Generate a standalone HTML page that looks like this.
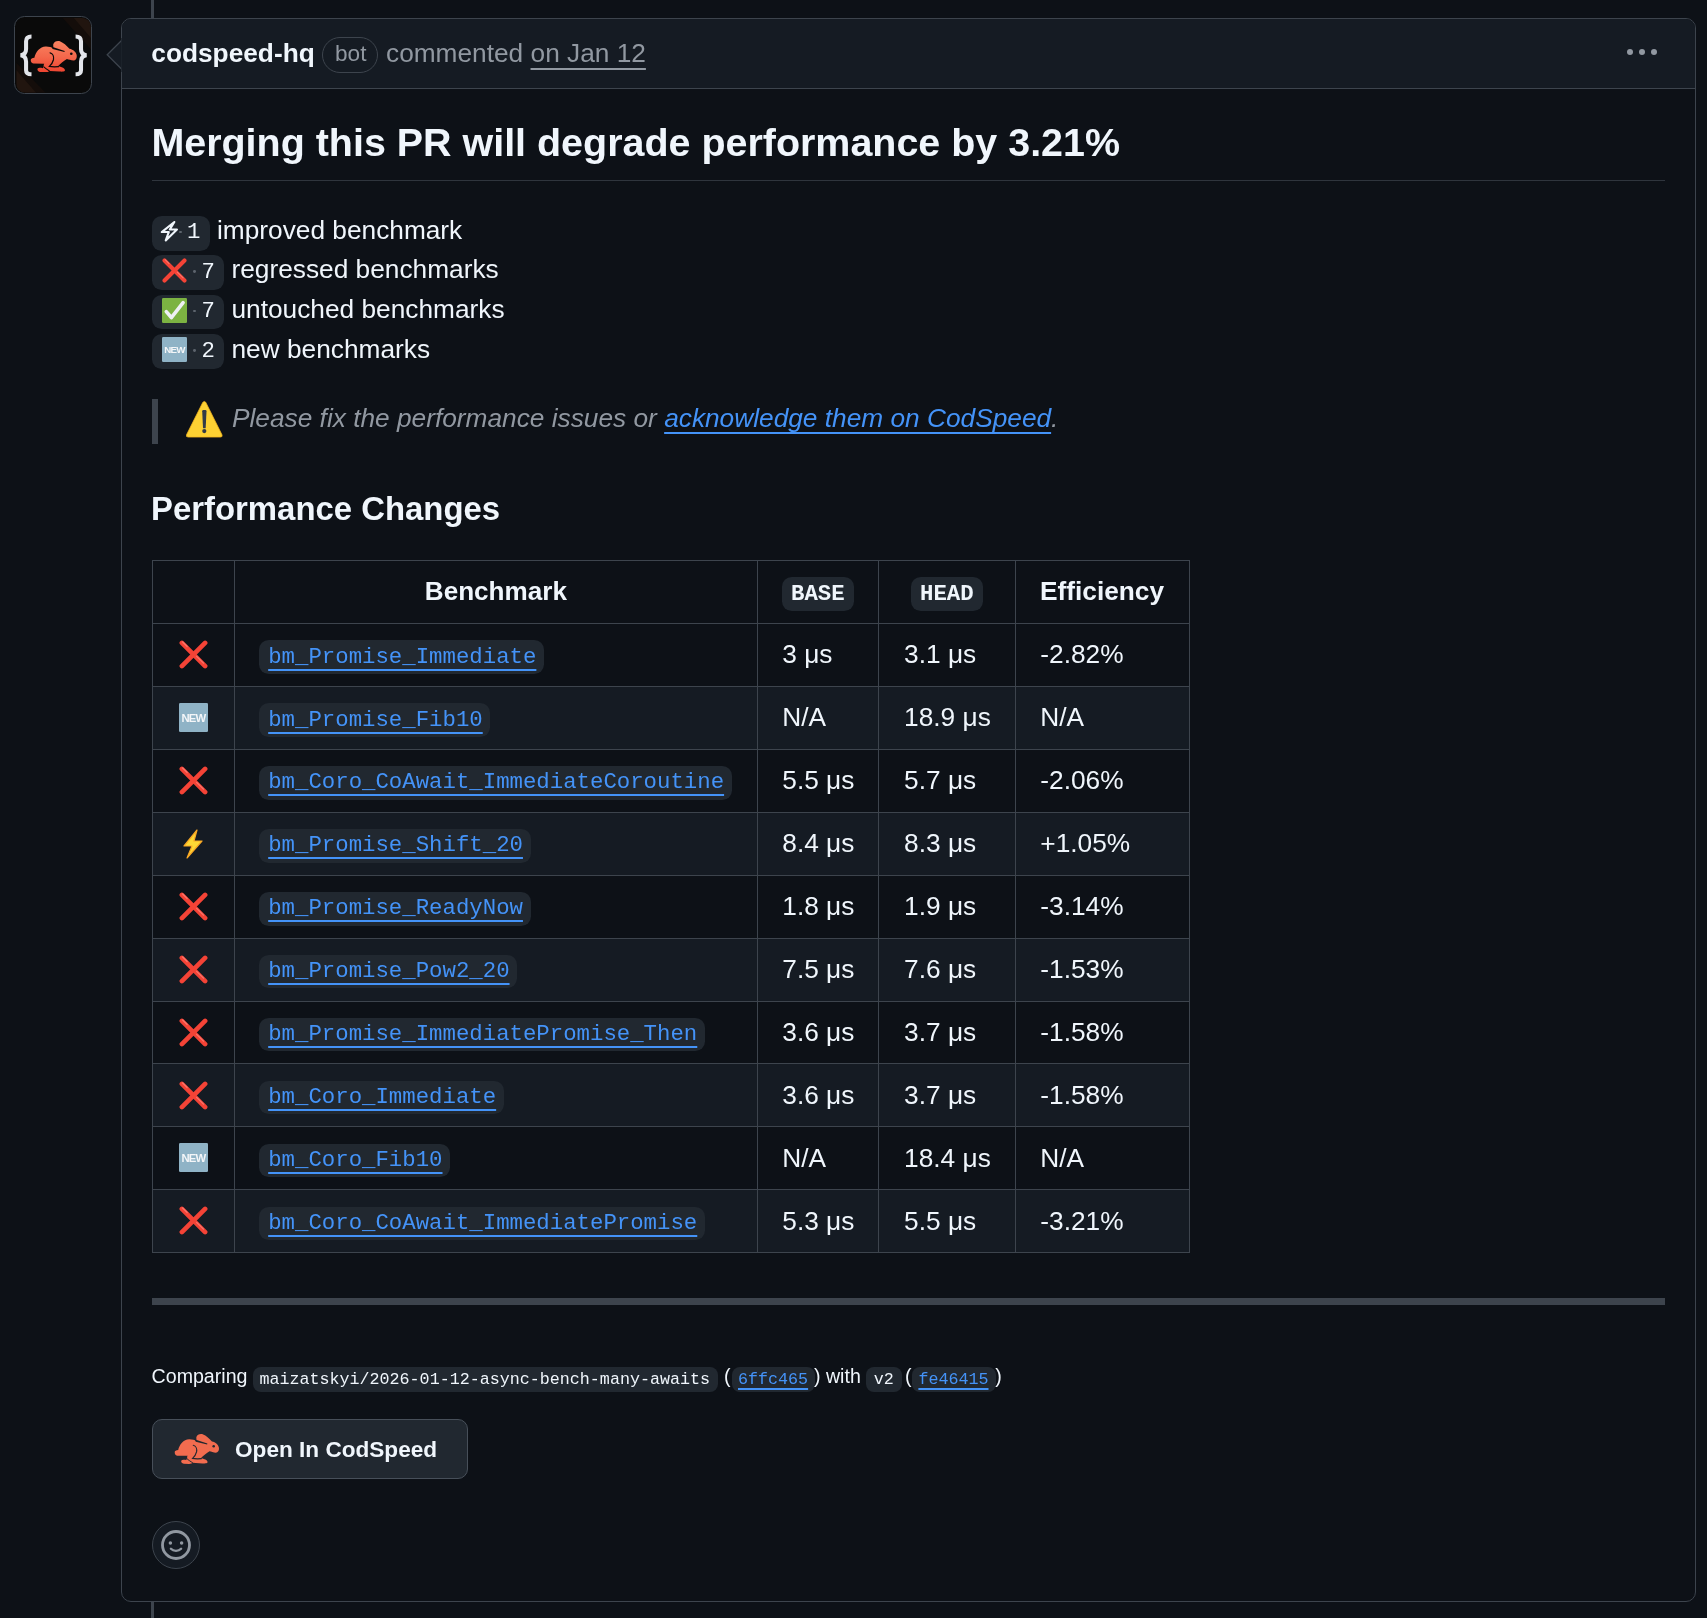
<!DOCTYPE html><html><head><meta charset="utf-8"><style>html,body{margin:0;padding:0;background:#0d1117;width:1707px;height:1618px;overflow:hidden;position:relative}.t{position:absolute;white-space:nowrap;font-family:"Liberation Sans",sans-serif}#root{position:absolute;left:0;top:0;width:1707px;height:1618px;will-change:transform}.r{position:absolute}</style></head><body><div id="root">
<div class="r" style="left:151.30px;top:0.00px;width:2.40px;height:18.00px;background:#3d444d;"></div>
<div class="r" style="left:151.30px;top:1601.00px;width:2.40px;height:17.00px;background:#3d444d;"></div>
<div class="r" style="left:14.4px;top:16.3px;width:78px;height:78px;box-sizing:border-box;border:1.8px solid #3d444d;border-radius:10.5px;background:#0a0a0a;overflow:hidden"></div>
<svg class="r" style="left:13px;top:14px" width="82" height="82" viewBox="0 0 1618 1618"><defs><clipPath id="ac"><rect x="65" y="80" width="1470" height="1470" rx="170"/></clipPath><pattern id="dp" width="40" height="40" patternUnits="userSpaceOnUse"><rect width="40" height="40" fill="#0a0a0a"/><rect x="0" y="0" width="20" height="20" fill="#2a160e"/></pattern></defs><g clip-path="url(#ac)"><path d="M980 80 L1560 80 L1560 720 Z" fill="#140d0a"/><path d="M1200 80 L1560 80 L1560 500 Z" fill="#21150f"/><path d="M65 960 L65 1560 L650 1560 Z" fill="#140d0a"/><path d="M65 1105 L65 1560 L460 1560 Z" fill="#21150f"/></g><path d="M365 445 C300 445 258 470 258 540 L258 690 C258 760 220 805 150 815 C220 825 258 870 258 940 L258 1110 C258 1170 300 1190 365 1190" fill="none" stroke="#e3e5ea" stroke-width="80" stroke-linecap="butt"/><path d="M1235 445 C1300 445 1342 470 1342 540 L1342 690 C1342 760 1380 805 1450 815 C1380 825 1342 870 1342 940 L1342 1110 C1342 1170 1300 1190 1235 1190" fill="none" stroke="#e3e5ea" stroke-width="80" stroke-linecap="butt"/></svg>
<svg class="r" style="left:29.50px;top:39.60px" width="47.5" height="32.9" viewBox="170 230 1300 900" preserveAspectRatio="none"><defs><linearGradient id="rg" x1="0" y1="0" x2="0" y2="1"><stop offset="0" stop-color="#f98260"/><stop offset="0.5" stop-color="#f4684c"/><stop offset="1" stop-color="#ee4430"/></linearGradient></defs><path fill="url(#rg)" d="M190 780 C190 740 230 720 290 715 C320 560 440 410 600 405 C680 402 760 430 810 450 L805 350 C830 270 920 240 1000 270 C1080 300 1170 380 1250 470 C1350 490 1440 560 1450 660 C1455 740 1420 790 1360 790 C1290 790 1230 760 1180 750 C1100 800 1000 880 940 940 L1040 975 C1100 990 1140 1040 1120 1080 C1100 1100 1040 1100 980 1095 L700 1080 C690 1100 650 1110 600 1110 L450 1105 C390 1095 360 1050 380 1010 C400 985 450 985 520 1000 L545 940 C540 910 550 890 560 880 L260 875 C210 865 190 830 190 780 Z"/><path fill="#0a0a0a" d="M750 405 L1120 532 L1112 556 L790 478 Z"/><path fill="none" stroke="#0a0a0a" stroke-width="34" stroke-linecap="round" d="M720 580 C790 600 830 680 812 770 C792 850 735 920 700 952 C760 966 850 966 950 960"/><path fill="none" stroke="#0a0a0a" stroke-width="28" d="M540 960 C580 1000 640 1040 705 1078"/><circle cx="1300" cy="605" r="36" fill="#0a0a0a"/></svg><div class="r" style="left:121px;top:18px;width:1575px;height:1584px;box-sizing:border-box;border:1px solid #3d444d;border-radius:10px;overflow:hidden;background:#0d1117"><div style="position:absolute;left:0;top:0;right:0;height:69px;background:#151b23;border-bottom:1px solid #3d444d"></div></div>
<svg class="r" style="left:104px;top:38px" width="20" height="34" viewBox="0 0 20 34"><path d="M17.5 2.5 L3.2 16.7 L17.5 31 Z" fill="#151b23"/><path d="M17.5 2.5 L3.2 16.7 L17.5 31" fill="none" stroke="#3d444d" stroke-width="1.3"/><rect x="17.4" y="0" width="3" height="34" fill="#151b23"/></svg>
<div class="t" style="left:151.30px;top:34.49px;font-size:26.27px;line-height:39.41px;font-family:'Liberation Sans', sans-serif;font-weight:700;font-style:normal;color:#f0f6fc;">codspeed-hq</div>
<div class="r" style="left:322px;top:37px;width:56px;height:35.5px;box-sizing:border-box;border:1px solid #3d444d;border-radius:18px"></div>
<div class="t" style="left:335.00px;top:37.42px;font-size:22.6px;line-height:33.9px;font-family:'Liberation Sans', sans-serif;font-weight:400;font-style:normal;color:#9198a1;">bot</div>
<div class="t" style="left:386.00px;top:34.09px;font-size:26.27px;line-height:39.41px;font-family:'Liberation Sans', sans-serif;font-weight:400;font-style:normal;color:#9198a1;white-space:pre">commented <span style="text-decoration:underline;text-underline-offset:6px;text-decoration-thickness:2px">on Jan 12</span></div>
<div class="r" style="left:1627px;top:49px;width:6.2px;height:6.2px;border-radius:50%;background:#9198a1"></div>
<div class="r" style="left:1639px;top:49px;width:6.2px;height:6.2px;border-radius:50%;background:#9198a1"></div>
<div class="r" style="left:1651px;top:49px;width:6.2px;height:6.2px;border-radius:50%;background:#9198a1"></div>
<div class="t" style="left:151.40px;top:113.34px;font-size:39.45px;line-height:59.18px;font-family:'Liberation Sans', sans-serif;font-weight:700;font-style:normal;color:#f0f6fc;">Merging this PR will degrade performance by 3.21%</div>
<div class="r" style="left:152.00px;top:179.80px;width:1513.00px;height:1.20px;background:#2f353d;"></div>
<div class="r" style="left:152.30px;top:216.20px;width:57.70px;height:34.40px;background:#212830;border-radius:9.8px"></div>
<svg class="r" style="left:159.00px;top:219.00px" width="21" height="25" viewBox="0 0 21 25"><path d="M15.35 2.98 L2.74 13.07 L9.78 13.07 L6.74 21.42 L17.96 10.55 L10.83 10.55 Z" fill="none" stroke="#f0f6fc" stroke-width="2.1" stroke-linejoin="round" stroke-linecap="round"/></svg><div class="r" style="left:179.00px;top:230.50px;width:2.8px;height:2.8px;border-radius:50%;background:#5d646d"></div>
<div class="t" style="left:187.00px;top:216.38px;font-size:22.35px;line-height:33.53px;font-family:'Liberation Mono', monospace;font-weight:400;font-style:normal;color:#f0f6fc;">1</div>
<div class="t" style="left:217.00px;top:210.79px;font-size:26.27px;line-height:39.41px;font-family:'Liberation Sans', sans-serif;font-weight:400;font-style:normal;color:#f0f6fc;">improved benchmark</div>
<div class="r" style="left:152.30px;top:255.00px;width:71.50px;height:34.60px;background:#212830;border-radius:9.8px"></div>
<svg class="r" style="left:162.00px;top:258.00px" width="25" height="25" viewBox="0 0 32 32"><g stroke-linecap="round" stroke-width="5.2"><line x1="3.2" y1="3.2" x2="28.8" y2="28.8" stroke="#f44336"/><line x1="28.8" y1="3.2" x2="3.2" y2="28.8" stroke="#f44336"/></g><g stroke-linecap="round" stroke-width="1.3" stroke="#ff8a80" opacity="0.75"><line x1="4" y1="2.2" x2="9" y2="7.2"/><line x1="19.5" y1="18" x2="27" y2="25.5"/></g></svg><div class="r" style="left:193.40px;top:270.10px;width:2.8px;height:2.8px;border-radius:50%;background:#5d646d"></div>
<div class="t" style="left:201.50px;top:255.98px;font-size:22.35px;line-height:33.53px;font-family:'Liberation Mono', monospace;font-weight:400;font-style:normal;color:#f0f6fc;">7</div>
<div class="t" style="left:231.50px;top:250.39px;font-size:26.27px;line-height:39.41px;font-family:'Liberation Sans', sans-serif;font-weight:400;font-style:normal;color:#f0f6fc;">regressed benchmarks</div>
<div class="r" style="left:152.30px;top:294.60px;width:71.50px;height:34.60px;background:#212830;border-radius:9.8px"></div>
<svg class="r" style="left:162.00px;top:297.60px" width="25" height="25" viewBox="0 0 32 32"><rect x="0" y="0" width="32" height="32" rx="1.5" fill="#7cb342"/><path d="M5.5 17.5 L12 25 L27 6" fill="none" stroke="#eef0f4" stroke-width="4.6" stroke-linecap="round" stroke-linejoin="round"/></svg><div class="r" style="left:193.40px;top:309.70px;width:2.8px;height:2.8px;border-radius:50%;background:#5d646d"></div>
<div class="t" style="left:201.50px;top:295.38px;font-size:22.35px;line-height:33.53px;font-family:'Liberation Mono', monospace;font-weight:400;font-style:normal;color:#f0f6fc;">7</div>
<div class="t" style="left:231.50px;top:289.79px;font-size:26.27px;line-height:39.41px;font-family:'Liberation Sans', sans-serif;font-weight:400;font-style:normal;color:#f0f6fc;">untouched benchmarks</div>
<div class="r" style="left:152.30px;top:334.20px;width:71.50px;height:34.60px;background:#212830;border-radius:9.8px"></div>
<svg class="r" style="left:162.00px;top:337.20px" width="25" height="25" viewBox="0 0 32 32"><rect x="0" y="0" width="32" height="32" rx="1.5" fill="#8fb3c6"/><text x="16" y="21" text-anchor="middle" font-family="Liberation Sans, sans-serif" font-weight="700" font-size="12.5" fill="#f4f6f8" letter-spacing="-0.9">NEW</text></svg><div class="r" style="left:193.40px;top:349.30px;width:2.8px;height:2.8px;border-radius:50%;background:#5d646d"></div>
<div class="t" style="left:201.50px;top:335.28px;font-size:22.35px;line-height:33.53px;font-family:'Liberation Mono', monospace;font-weight:400;font-style:normal;color:#f0f6fc;">2</div>
<div class="t" style="left:231.50px;top:329.69px;font-size:26.27px;line-height:39.41px;font-family:'Liberation Sans', sans-serif;font-weight:400;font-style:normal;color:#f0f6fc;">new benchmarks</div>
<div class="r" style="left:152.00px;top:399.00px;width:6.30px;height:44.60px;background:#3d444d;"></div>
<svg class="r" style="left:185.00px;top:400.00px;overflow:visible" width="37" height="37" viewBox="0 0 37 37"><path d="M17.7 2.5 Q19.3 0.3 20.9 2.5 L36.9 34.6 Q37.9 37.1 35.4 37.1 L3.2 37.1 Q0.6 37.1 1.6 34.6 Z" fill="#fdd133" stroke="#f4b21b" stroke-width="0.7"/><path d="M17.2 11.2 Q17.2 10.1 18.3 10.1 L20.4 10.1 Q21.5 10.1 21.5 11.2 L20.7 27.8 Q20.6 28.3 20.1 28.3 L18.6 28.3 Q18.1 28.3 18.0 27.8 Z" fill="#333b47"/><circle cx="19.3" cy="31.1" r="2.1" fill="#333b47"/></svg><div class="t" style="left:232.00px;top:398.99px;font-size:26.27px;line-height:39.41px;font-family:'Liberation Sans', sans-serif;font-weight:400;font-style:italic;color:#9198a1;white-space:pre">Please fix the performance issues or <span style="color:#4493f8;text-decoration:underline;text-underline-offset:5px;text-decoration-thickness:2px">acknowledge them on CodSpeed</span>.</div>
<div class="t" style="left:151.00px;top:484.23px;font-size:32.9px;line-height:49.35px;font-family:'Liberation Sans', sans-serif;font-weight:700;font-style:normal;color:#f0f6fc;">Performance Changes</div>
<div class="r" style="left:152.50px;top:686.00px;width:1037.00px;height:63.00px;background:#151b23;"></div>
<div class="r" style="left:152.50px;top:812.00px;width:1037.00px;height:63.00px;background:#151b23;"></div>
<div class="r" style="left:152.50px;top:938.00px;width:1037.00px;height:63.00px;background:#151b23;"></div>
<div class="r" style="left:152.50px;top:1063.00px;width:1037.00px;height:63.00px;background:#151b23;"></div>
<div class="r" style="left:152.50px;top:1189.00px;width:1037.00px;height:63.00px;background:#151b23;"></div>
<div class="r" style="left:152.00px;top:560.00px;width:1038.00px;height:1.00px;background:#3d444d;"></div>
<div class="r" style="left:152.00px;top:623.00px;width:1038.00px;height:1.00px;background:#3d444d;"></div>
<div class="r" style="left:152.00px;top:686.00px;width:1038.00px;height:1.00px;background:#3d444d;"></div>
<div class="r" style="left:152.00px;top:749.00px;width:1038.00px;height:1.00px;background:#3d444d;"></div>
<div class="r" style="left:152.00px;top:812.00px;width:1038.00px;height:1.00px;background:#3d444d;"></div>
<div class="r" style="left:152.00px;top:875.00px;width:1038.00px;height:1.00px;background:#3d444d;"></div>
<div class="r" style="left:152.00px;top:938.00px;width:1038.00px;height:1.00px;background:#3d444d;"></div>
<div class="r" style="left:152.00px;top:1001.00px;width:1038.00px;height:1.00px;background:#3d444d;"></div>
<div class="r" style="left:152.00px;top:1063.00px;width:1038.00px;height:1.00px;background:#3d444d;"></div>
<div class="r" style="left:152.00px;top:1126.00px;width:1038.00px;height:1.00px;background:#3d444d;"></div>
<div class="r" style="left:152.00px;top:1189.00px;width:1038.00px;height:1.00px;background:#3d444d;"></div>
<div class="r" style="left:152.00px;top:1252.00px;width:1038.00px;height:1.00px;background:#3d444d;"></div>
<div class="r" style="left:152.00px;top:560.00px;width:1.00px;height:693.00px;background:#3d444d;"></div>
<div class="r" style="left:233.80px;top:560.00px;width:1.00px;height:693.00px;background:#3d444d;"></div>
<div class="r" style="left:757.00px;top:560.00px;width:1.00px;height:693.00px;background:#3d444d;"></div>
<div class="r" style="left:878.00px;top:560.00px;width:1.00px;height:693.00px;background:#3d444d;"></div>
<div class="r" style="left:1014.90px;top:560.00px;width:1.00px;height:693.00px;background:#3d444d;"></div>
<div class="r" style="left:1189.00px;top:560.00px;width:1.00px;height:693.00px;background:#3d444d;"></div>
<div class="t" style="left:234.3px;width:523.2px;text-align:center;top:572.25px;font-size:26.1px;line-height:39.2px;font-weight:700;color:#f0f6fc">Benchmark</div>
<div class="r" style="left:781.80px;top:577.00px;width:71.90px;height:33.60px;background:#212830;border-radius:9.8px"></div>
<div class="t" style="left:791.00px;top:577.93px;font-size:22.35px;line-height:33.53px;font-family:'Liberation Mono', monospace;font-weight:700;font-style:normal;color:#f0f6fc;">BASE</div>
<div class="r" style="left:911.00px;top:577.00px;width:71.50px;height:33.60px;background:#212830;border-radius:9.8px"></div>
<div class="t" style="left:920.00px;top:577.93px;font-size:22.35px;line-height:33.53px;font-family:'Liberation Mono', monospace;font-weight:700;font-style:normal;color:#f0f6fc;">HEAD</div>
<div class="t" style="left:1040.00px;top:572.44px;font-size:26.27px;line-height:39.41px;font-family:'Liberation Sans', sans-serif;font-weight:700;font-style:normal;color:#f0f6fc;">Efficiency</div>
<svg class="r" style="left:179.00px;top:640.25px" width="29" height="29" viewBox="0 0 32 32"><g stroke-linecap="round" stroke-width="5.2"><line x1="3.2" y1="3.2" x2="28.8" y2="28.8" stroke="#f44336"/><line x1="28.8" y1="3.2" x2="3.2" y2="28.8" stroke="#f44336"/></g><g stroke-linecap="round" stroke-width="1.3" stroke="#ff8a80" opacity="0.75"><line x1="4" y1="2.2" x2="9" y2="7.2"/><line x1="19.5" y1="18" x2="27" y2="25.5"/></g></svg><div class="r" style="left:259.10px;top:640.45px;width:285.00px;height:33.50px;background:#212830;border-radius:9.8px"></div>
<div class="t" style="left:268.20px;top:640.63px;font-size:22.35px;line-height:33.53px;font-family:'Liberation Mono', monospace;font-weight:400;font-style:normal;color:#4493f8;text-decoration:underline;text-underline-offset:6px;text-decoration-thickness:2.3px">bm_Promise_Immediate</div>
<div class="t" style="left:782.30px;top:635.44px;font-size:26.27px;line-height:39.41px;font-family:'Liberation Sans', sans-serif;font-weight:400;font-style:normal;color:#f0f6fc;">3 μs</div>
<div class="t" style="left:904.10px;top:635.44px;font-size:26.27px;line-height:39.41px;font-family:'Liberation Sans', sans-serif;font-weight:400;font-style:normal;color:#f0f6fc;">3.1 μs</div>
<div class="t" style="left:1040.30px;top:635.44px;font-size:26.27px;line-height:39.41px;font-family:'Liberation Sans', sans-serif;font-weight:400;font-style:normal;color:#f0f6fc;">-2.82%</div>
<svg class="r" style="left:179.00px;top:703.15px" width="29" height="29" viewBox="0 0 32 32"><rect x="0" y="0" width="32" height="32" rx="1.5" fill="#8fb3c6"/><text x="16" y="21" text-anchor="middle" font-family="Liberation Sans, sans-serif" font-weight="700" font-size="12.5" fill="#f4f6f8" letter-spacing="-0.9">NEW</text></svg><div class="r" style="left:259.10px;top:703.35px;width:231.36px;height:33.50px;background:#212830;border-radius:9.8px"></div>
<div class="t" style="left:268.20px;top:703.53px;font-size:22.35px;line-height:33.53px;font-family:'Liberation Mono', monospace;font-weight:400;font-style:normal;color:#4493f8;text-decoration:underline;text-underline-offset:6px;text-decoration-thickness:2.3px">bm_Promise_Fib10</div>
<div class="t" style="left:782.30px;top:698.34px;font-size:26.27px;line-height:39.41px;font-family:'Liberation Sans', sans-serif;font-weight:400;font-style:normal;color:#f0f6fc;">N/A</div>
<div class="t" style="left:904.10px;top:698.34px;font-size:26.27px;line-height:39.41px;font-family:'Liberation Sans', sans-serif;font-weight:400;font-style:normal;color:#f0f6fc;">18.9 μs</div>
<div class="t" style="left:1040.30px;top:698.34px;font-size:26.27px;line-height:39.41px;font-family:'Liberation Sans', sans-serif;font-weight:400;font-style:normal;color:#f0f6fc;">N/A</div>
<svg class="r" style="left:179.00px;top:766.05px" width="29" height="29" viewBox="0 0 32 32"><g stroke-linecap="round" stroke-width="5.2"><line x1="3.2" y1="3.2" x2="28.8" y2="28.8" stroke="#f44336"/><line x1="28.8" y1="3.2" x2="3.2" y2="28.8" stroke="#f44336"/></g><g stroke-linecap="round" stroke-width="1.3" stroke="#ff8a80" opacity="0.75"><line x1="4" y1="2.2" x2="9" y2="7.2"/><line x1="19.5" y1="18" x2="27" y2="25.5"/></g></svg><div class="r" style="left:259.10px;top:766.25px;width:472.74px;height:33.50px;background:#212830;border-radius:9.8px"></div>
<div class="t" style="left:268.20px;top:766.43px;font-size:22.35px;line-height:33.53px;font-family:'Liberation Mono', monospace;font-weight:400;font-style:normal;color:#4493f8;text-decoration:underline;text-underline-offset:6px;text-decoration-thickness:2.3px">bm_Coro_CoAwait_ImmediateCoroutine</div>
<div class="t" style="left:782.30px;top:761.24px;font-size:26.27px;line-height:39.41px;font-family:'Liberation Sans', sans-serif;font-weight:400;font-style:normal;color:#f0f6fc;">5.5 μs</div>
<div class="t" style="left:904.10px;top:761.24px;font-size:26.27px;line-height:39.41px;font-family:'Liberation Sans', sans-serif;font-weight:400;font-style:normal;color:#f0f6fc;">5.7 μs</div>
<div class="t" style="left:1040.30px;top:761.24px;font-size:26.27px;line-height:39.41px;font-family:'Liberation Sans', sans-serif;font-weight:400;font-style:normal;color:#f0f6fc;">-2.06%</div>
<svg class="r" style="left:182.00px;top:828.55px" width="22" height="30" viewBox="0 0 22 30"><path d="M15 1 L2 17 L10 17 L5 29 L20 12 L12 12 Z" fill="#fdd835" stroke="#f9a825" stroke-width="1.2" stroke-linejoin="round"/></svg><div class="r" style="left:259.10px;top:829.15px;width:271.59px;height:33.50px;background:#212830;border-radius:9.8px"></div>
<div class="t" style="left:268.20px;top:829.33px;font-size:22.35px;line-height:33.53px;font-family:'Liberation Mono', monospace;font-weight:400;font-style:normal;color:#4493f8;text-decoration:underline;text-underline-offset:6px;text-decoration-thickness:2.3px">bm_Promise_Shift_20</div>
<div class="t" style="left:782.30px;top:824.14px;font-size:26.27px;line-height:39.41px;font-family:'Liberation Sans', sans-serif;font-weight:400;font-style:normal;color:#f0f6fc;">8.4 μs</div>
<div class="t" style="left:904.10px;top:824.14px;font-size:26.27px;line-height:39.41px;font-family:'Liberation Sans', sans-serif;font-weight:400;font-style:normal;color:#f0f6fc;">8.3 μs</div>
<div class="t" style="left:1040.30px;top:824.14px;font-size:26.27px;line-height:39.41px;font-family:'Liberation Sans', sans-serif;font-weight:400;font-style:normal;color:#f0f6fc;">+1.05%</div>
<svg class="r" style="left:179.00px;top:891.85px" width="29" height="29" viewBox="0 0 32 32"><g stroke-linecap="round" stroke-width="5.2"><line x1="3.2" y1="3.2" x2="28.8" y2="28.8" stroke="#f44336"/><line x1="28.8" y1="3.2" x2="3.2" y2="28.8" stroke="#f44336"/></g><g stroke-linecap="round" stroke-width="1.3" stroke="#ff8a80" opacity="0.75"><line x1="4" y1="2.2" x2="9" y2="7.2"/><line x1="19.5" y1="18" x2="27" y2="25.5"/></g></svg><div class="r" style="left:259.10px;top:892.05px;width:271.59px;height:33.50px;background:#212830;border-radius:9.8px"></div>
<div class="t" style="left:268.20px;top:892.23px;font-size:22.35px;line-height:33.53px;font-family:'Liberation Mono', monospace;font-weight:400;font-style:normal;color:#4493f8;text-decoration:underline;text-underline-offset:6px;text-decoration-thickness:2.3px">bm_Promise_ReadyNow</div>
<div class="t" style="left:782.30px;top:887.04px;font-size:26.27px;line-height:39.41px;font-family:'Liberation Sans', sans-serif;font-weight:400;font-style:normal;color:#f0f6fc;">1.8 μs</div>
<div class="t" style="left:904.10px;top:887.04px;font-size:26.27px;line-height:39.41px;font-family:'Liberation Sans', sans-serif;font-weight:400;font-style:normal;color:#f0f6fc;">1.9 μs</div>
<div class="t" style="left:1040.30px;top:887.04px;font-size:26.27px;line-height:39.41px;font-family:'Liberation Sans', sans-serif;font-weight:400;font-style:normal;color:#f0f6fc;">-3.14%</div>
<svg class="r" style="left:179.00px;top:954.75px" width="29" height="29" viewBox="0 0 32 32"><g stroke-linecap="round" stroke-width="5.2"><line x1="3.2" y1="3.2" x2="28.8" y2="28.8" stroke="#f44336"/><line x1="28.8" y1="3.2" x2="3.2" y2="28.8" stroke="#f44336"/></g><g stroke-linecap="round" stroke-width="1.3" stroke="#ff8a80" opacity="0.75"><line x1="4" y1="2.2" x2="9" y2="7.2"/><line x1="19.5" y1="18" x2="27" y2="25.5"/></g></svg><div class="r" style="left:259.10px;top:954.95px;width:258.18px;height:33.50px;background:#212830;border-radius:9.8px"></div>
<div class="t" style="left:268.20px;top:955.13px;font-size:22.35px;line-height:33.53px;font-family:'Liberation Mono', monospace;font-weight:400;font-style:normal;color:#4493f8;text-decoration:underline;text-underline-offset:6px;text-decoration-thickness:2.3px">bm_Promise_Pow2_20</div>
<div class="t" style="left:782.30px;top:949.94px;font-size:26.27px;line-height:39.41px;font-family:'Liberation Sans', sans-serif;font-weight:400;font-style:normal;color:#f0f6fc;">7.5 μs</div>
<div class="t" style="left:904.10px;top:949.94px;font-size:26.27px;line-height:39.41px;font-family:'Liberation Sans', sans-serif;font-weight:400;font-style:normal;color:#f0f6fc;">7.6 μs</div>
<div class="t" style="left:1040.30px;top:949.94px;font-size:26.27px;line-height:39.41px;font-family:'Liberation Sans', sans-serif;font-weight:400;font-style:normal;color:#f0f6fc;">-1.53%</div>
<svg class="r" style="left:179.00px;top:1017.65px" width="29" height="29" viewBox="0 0 32 32"><g stroke-linecap="round" stroke-width="5.2"><line x1="3.2" y1="3.2" x2="28.8" y2="28.8" stroke="#f44336"/><line x1="28.8" y1="3.2" x2="3.2" y2="28.8" stroke="#f44336"/></g><g stroke-linecap="round" stroke-width="1.3" stroke="#ff8a80" opacity="0.75"><line x1="4" y1="2.2" x2="9" y2="7.2"/><line x1="19.5" y1="18" x2="27" y2="25.5"/></g></svg><div class="r" style="left:259.10px;top:1017.85px;width:445.92px;height:33.50px;background:#212830;border-radius:9.8px"></div>
<div class="t" style="left:268.20px;top:1018.03px;font-size:22.35px;line-height:33.53px;font-family:'Liberation Mono', monospace;font-weight:400;font-style:normal;color:#4493f8;text-decoration:underline;text-underline-offset:6px;text-decoration-thickness:2.3px">bm_Promise_ImmediatePromise_Then</div>
<div class="t" style="left:782.30px;top:1012.84px;font-size:26.27px;line-height:39.41px;font-family:'Liberation Sans', sans-serif;font-weight:400;font-style:normal;color:#f0f6fc;">3.6 μs</div>
<div class="t" style="left:904.10px;top:1012.84px;font-size:26.27px;line-height:39.41px;font-family:'Liberation Sans', sans-serif;font-weight:400;font-style:normal;color:#f0f6fc;">3.7 μs</div>
<div class="t" style="left:1040.30px;top:1012.84px;font-size:26.27px;line-height:39.41px;font-family:'Liberation Sans', sans-serif;font-weight:400;font-style:normal;color:#f0f6fc;">-1.58%</div>
<svg class="r" style="left:179.00px;top:1080.55px" width="29" height="29" viewBox="0 0 32 32"><g stroke-linecap="round" stroke-width="5.2"><line x1="3.2" y1="3.2" x2="28.8" y2="28.8" stroke="#f44336"/><line x1="28.8" y1="3.2" x2="3.2" y2="28.8" stroke="#f44336"/></g><g stroke-linecap="round" stroke-width="1.3" stroke="#ff8a80" opacity="0.75"><line x1="4" y1="2.2" x2="9" y2="7.2"/><line x1="19.5" y1="18" x2="27" y2="25.5"/></g></svg><div class="r" style="left:259.10px;top:1080.75px;width:244.77px;height:33.50px;background:#212830;border-radius:9.8px"></div>
<div class="t" style="left:268.20px;top:1080.93px;font-size:22.35px;line-height:33.53px;font-family:'Liberation Mono', monospace;font-weight:400;font-style:normal;color:#4493f8;text-decoration:underline;text-underline-offset:6px;text-decoration-thickness:2.3px">bm_Coro_Immediate</div>
<div class="t" style="left:782.30px;top:1075.74px;font-size:26.27px;line-height:39.41px;font-family:'Liberation Sans', sans-serif;font-weight:400;font-style:normal;color:#f0f6fc;">3.6 μs</div>
<div class="t" style="left:904.10px;top:1075.74px;font-size:26.27px;line-height:39.41px;font-family:'Liberation Sans', sans-serif;font-weight:400;font-style:normal;color:#f0f6fc;">3.7 μs</div>
<div class="t" style="left:1040.30px;top:1075.74px;font-size:26.27px;line-height:39.41px;font-family:'Liberation Sans', sans-serif;font-weight:400;font-style:normal;color:#f0f6fc;">-1.58%</div>
<svg class="r" style="left:179.00px;top:1143.45px" width="29" height="29" viewBox="0 0 32 32"><rect x="0" y="0" width="32" height="32" rx="1.5" fill="#8fb3c6"/><text x="16" y="21" text-anchor="middle" font-family="Liberation Sans, sans-serif" font-weight="700" font-size="12.5" fill="#f4f6f8" letter-spacing="-0.9">NEW</text></svg><div class="r" style="left:259.10px;top:1143.65px;width:191.13px;height:33.50px;background:#212830;border-radius:9.8px"></div>
<div class="t" style="left:268.20px;top:1143.83px;font-size:22.35px;line-height:33.53px;font-family:'Liberation Mono', monospace;font-weight:400;font-style:normal;color:#4493f8;text-decoration:underline;text-underline-offset:6px;text-decoration-thickness:2.3px">bm_Coro_Fib10</div>
<div class="t" style="left:782.30px;top:1138.64px;font-size:26.27px;line-height:39.41px;font-family:'Liberation Sans', sans-serif;font-weight:400;font-style:normal;color:#f0f6fc;">N/A</div>
<div class="t" style="left:904.10px;top:1138.64px;font-size:26.27px;line-height:39.41px;font-family:'Liberation Sans', sans-serif;font-weight:400;font-style:normal;color:#f0f6fc;">18.4 μs</div>
<div class="t" style="left:1040.30px;top:1138.64px;font-size:26.27px;line-height:39.41px;font-family:'Liberation Sans', sans-serif;font-weight:400;font-style:normal;color:#f0f6fc;">N/A</div>
<svg class="r" style="left:179.00px;top:1206.35px" width="29" height="29" viewBox="0 0 32 32"><g stroke-linecap="round" stroke-width="5.2"><line x1="3.2" y1="3.2" x2="28.8" y2="28.8" stroke="#f44336"/><line x1="28.8" y1="3.2" x2="3.2" y2="28.8" stroke="#f44336"/></g><g stroke-linecap="round" stroke-width="1.3" stroke="#ff8a80" opacity="0.75"><line x1="4" y1="2.2" x2="9" y2="7.2"/><line x1="19.5" y1="18" x2="27" y2="25.5"/></g></svg><div class="r" style="left:259.10px;top:1206.55px;width:445.92px;height:33.50px;background:#212830;border-radius:9.8px"></div>
<div class="t" style="left:268.20px;top:1206.73px;font-size:22.35px;line-height:33.53px;font-family:'Liberation Mono', monospace;font-weight:400;font-style:normal;color:#4493f8;text-decoration:underline;text-underline-offset:6px;text-decoration-thickness:2.3px">bm_Coro_CoAwait_ImmediatePromise</div>
<div class="t" style="left:782.30px;top:1201.54px;font-size:26.27px;line-height:39.41px;font-family:'Liberation Sans', sans-serif;font-weight:400;font-style:normal;color:#f0f6fc;">5.3 μs</div>
<div class="t" style="left:904.10px;top:1201.54px;font-size:26.27px;line-height:39.41px;font-family:'Liberation Sans', sans-serif;font-weight:400;font-style:normal;color:#f0f6fc;">5.5 μs</div>
<div class="t" style="left:1040.30px;top:1201.54px;font-size:26.27px;line-height:39.41px;font-family:'Liberation Sans', sans-serif;font-weight:400;font-style:normal;color:#f0f6fc;">-3.21%</div>
<div class="r" style="left:152.00px;top:1298.00px;width:1513.00px;height:6.60px;background:#3d444d;"></div>
<div class="t" style="left:151.60px;top:1362.31px;font-size:19.6px;line-height:29.4px;font-family:'Liberation Sans', sans-serif;font-weight:400;font-style:normal;color:#f0f6fc;">Comparing</div>
<div class="r" style="left:252.50px;top:1366.60px;width:465.30px;height:25.40px;background:#212830;border-radius:8px"></div>
<div class="t" style="left:259.40px;top:1366.52px;font-size:16.7px;line-height:25.05px;font-family:'Liberation Mono', monospace;font-weight:400;font-style:normal;color:#f0f6fc;">maizatskyi/2026-01-12-async-bench-many-awaits</div>
<div class="t" style="left:724.00px;top:1362.31px;font-size:19.6px;line-height:29.4px;font-family:'Liberation Sans', sans-serif;font-weight:400;font-style:normal;color:#f0f6fc;">(</div>
<div class="r" style="left:731.60px;top:1366.60px;width:83.54px;height:25.40px;background:#212830;border-radius:8px"></div>
<div class="t" style="left:738.00px;top:1366.52px;font-size:16.7px;line-height:25.05px;font-family:'Liberation Mono', monospace;font-weight:400;font-style:normal;color:#4493f8;text-decoration:underline;text-underline-offset:3.5px;text-decoration-thickness:1.6px">6ffc465</div>
<div class="t" style="left:814.00px;top:1362.31px;font-size:19.6px;line-height:29.4px;font-family:'Liberation Sans', sans-serif;font-weight:400;font-style:normal;color:#f0f6fc;white-space:pre">) with</div>
<div class="r" style="left:866.00px;top:1366.60px;width:36.04px;height:25.40px;background:#212830;border-radius:8px"></div>
<div class="t" style="left:873.70px;top:1366.52px;font-size:16.7px;line-height:25.05px;font-family:'Liberation Mono', monospace;font-weight:400;font-style:normal;color:#f0f6fc;">v2</div>
<div class="t" style="left:905.00px;top:1362.31px;font-size:19.6px;line-height:29.4px;font-family:'Liberation Sans', sans-serif;font-weight:400;font-style:normal;color:#f0f6fc;">(</div>
<div class="r" style="left:912.00px;top:1366.60px;width:83.54px;height:25.40px;background:#212830;border-radius:8px"></div>
<div class="t" style="left:918.40px;top:1366.52px;font-size:16.7px;line-height:25.05px;font-family:'Liberation Mono', monospace;font-weight:400;font-style:normal;color:#4493f8;text-decoration:underline;text-underline-offset:3.5px;text-decoration-thickness:1.6px">fe46415</div>
<div class="t" style="left:995.20px;top:1362.31px;font-size:19.6px;line-height:29.4px;font-family:'Liberation Sans', sans-serif;font-weight:400;font-style:normal;color:#f0f6fc;">)</div>
<div class="r" style="left:152px;top:1418.8px;width:315.5px;height:60.2px;box-sizing:border-box;border:1.6px solid #474f59;border-radius:10px;background:#212830"></div>
<svg class="r" style="left:174.00px;top:1433.08px" width="45.69420035149385" height="31.63444639718805" viewBox="170 230 1300 900" preserveAspectRatio="none"><path fill="#f26c4f" d="M190 780 C190 740 230 720 290 715 C320 560 440 410 600 405 C680 402 760 430 810 450 L805 350 C830 270 920 240 1000 270 C1080 300 1170 380 1250 470 C1350 490 1440 560 1450 660 C1455 740 1420 790 1360 790 C1290 790 1230 760 1180 750 C1100 800 1000 880 940 940 L1040 975 C1100 990 1140 1040 1120 1080 C1100 1100 1040 1100 980 1095 L700 1080 C690 1100 650 1110 600 1110 L450 1105 C390 1095 360 1050 380 1010 C400 985 450 985 520 1000 L545 940 C540 910 550 890 560 880 L260 875 C210 865 190 830 190 780 Z"/><path fill="#212830" d="M750 405 L1120 532 L1112 556 L790 478 Z"/><path fill="none" stroke="#212830" stroke-width="34" stroke-linecap="round" d="M720 580 C790 600 830 680 812 770 C792 850 735 920 700 952 C760 966 850 966 950 960"/><path fill="none" stroke="#212830" stroke-width="28" d="M540 960 C580 1000 640 1040 705 1078"/><circle cx="1300" cy="605" r="36" fill="#212830"/></svg><div class="t" style="left:235.00px;top:1432.72px;font-size:22.6px;line-height:33.9px;font-family:'Liberation Sans', sans-serif;font-weight:700;font-style:normal;color:#f0f6fc;">Open In CodSpeed</div>
<div class="r" style="left:152px;top:1521px;width:48px;height:48px;box-sizing:border-box;border:1px solid #3d444d;border-radius:50%;background:#151b23"></div>
<svg class="r" style="left:160px;top:1529px" width="32" height="32" viewBox="0 0 32 32"><circle cx="16" cy="16" r="13.5" fill="none" stroke="#9198a1" stroke-width="2.8"/><circle cx="10.4" cy="14" r="1.75" fill="#9198a1"/><circle cx="21.6" cy="14" r="1.75" fill="#9198a1"/><path d="M10.9 19.8 C13.5 22.6 18.5 22.6 21.1 19.8" fill="none" stroke="#9198a1" stroke-width="2.4" stroke-linecap="round"/></svg>
</div></body></html>
